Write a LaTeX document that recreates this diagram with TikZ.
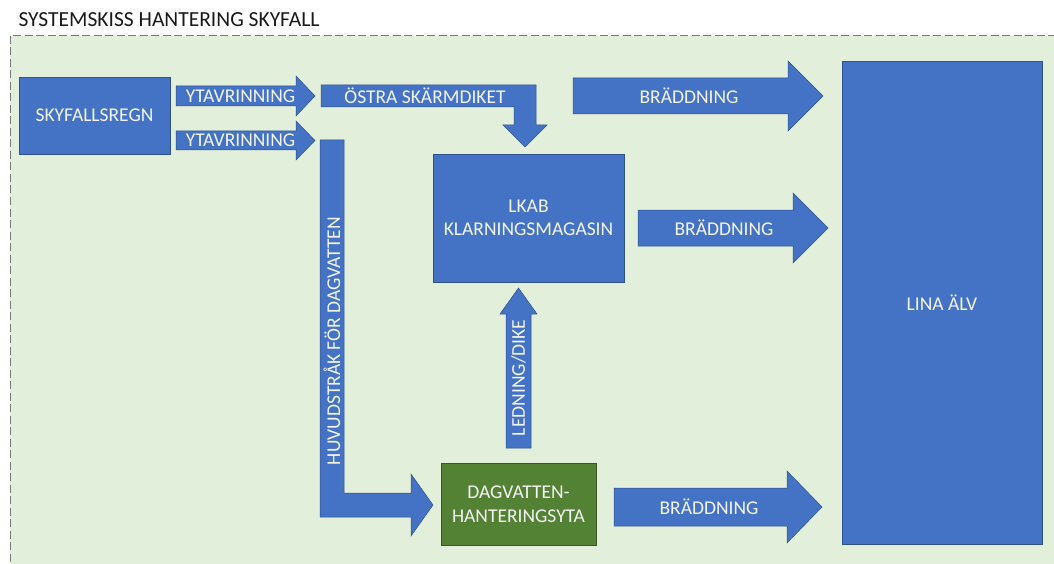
\documentclass[tikz,border=0pt]{standalone}
\usepackage{fontspec}
\setmainfont{Carlito}
\usepackage{tikz}
\usetikzlibrary{calc}

\definecolor{skyblue}{HTML}{4472C4}
\definecolor{skyedge}{HTML}{2F528F}
\definecolor{skygreen}{HTML}{548235}
\definecolor{greenedge}{HTML}{385723}
\definecolor{areabg}{HTML}{E2EFDA}
\definecolor{areaedge}{HTML}{7A7A7A}
\definecolor{labeltext}{HTML}{F4F4F4}

\tikzstyle{every node}=[font=\fontsize{19.5}{23.5}\selectfont, text=labeltext]
\tikzstyle{bluebox}=[draw=skyedge, fill=skyblue, line width=0.6pt, align=center, inner sep=0pt]
\tikzstyle{greenbox}=[draw=greenedge, fill=skygreen, line width=0.6pt, align=center, inner sep=0pt]
\tikzstyle{blockarrow}=[draw=skyedge, fill=skyblue, line width=0.5pt, line join=miter]

\begin{document}
\begin{tikzpicture}[x=1pt, y=-1pt]
                \useasboundingbox (0, 0) rectangle (1054, 564);
                \clip (0, 0) rectangle (1054, 564);

                % area
                \draw [areaedge, fill=areabg, line width=1pt, dash pattern=on 8pt off 3.5pt] (10, 36) rectangle (1070, 580);
                \node [anchor=west, text=black!90, font=\fontsize{21.5}{25}\selectfont] (title) at (15, 20) {SYSTEMSKISS HANTERING SKYFALL};

                % boxes
                \node [bluebox, minimum width=151pt, minimum height=77pt] (regn) at (94.5, 115.5) {SKYFALLSREGN};
                \node [bluebox, minimum width=191pt, minimum height=128pt] (lkab) at (528.5, 218) {LKAB\\KLARNINGSMAGASIN};
                \node [bluebox, minimum width=200pt, minimum height=483pt] (lina) at (942, 302.5) {LINA ÄLV};
                \node [greenbox, minimum width=155pt, minimum height=82pt] (yta) at (518.5, 504) {DAGVATTEN-\\HANTERINGSYTA};

                % block arrows
                \draw [blockarrow] (176, 86) -- (296, 86) -- (296, 76) -- (315, 96) -- (296, 116) -- (296, 106) -- (176, 106) -- cycle;
                \node (yt1) at (240.5, 96) {YTAVRINNING};

                \draw [blockarrow] (176, 131) -- (296, 131) -- (296, 121) -- (315, 140.5) -- (296, 160) -- (296, 150) -- (176, 150) -- cycle;
                \node (yt2) at (240.5, 140.5) {YTAVRINNING};

                \draw [blockarrow] (321, 85) -- (536, 85) -- (536, 125) -- (547, 125) -- (525, 147) -- (503, 125) -- (514, 125) -- (514, 107) -- (321, 107) -- cycle;
                \node (ostra) at (425, 96) {ÖSTRA SKÄRMDIKET};

                \draw [blockarrow] (320, 140) -- (344, 140) -- (344, 493) -- (411, 493) -- (411, 474) -- (433, 505) -- (411, 536) -- (411, 517) -- (320, 517) -- cycle;
                \node [rotate=90] (huvud) at (332, 341) {HUVUDSTRÅK FÖR DAGVATTEN};

                \draw [blockarrow] (506, 448) -- (506, 314) -- (500, 314) -- (518.5, 288) -- (537, 314) -- (531, 314) -- (531, 448) -- cycle;
                \node [rotate=90] (ledning) at (518.5, 378) {LEDNING/DIKE};

                \draw [blockarrow] (573, 78) -- (788, 78) -- (788, 61) -- (823, 96) -- (788, 131) -- (788, 114) -- (573, 114) -- cycle;
                \node (bradd1) at (689, 96) {BRÄDDNING};

                \draw [blockarrow] (638, 210) -- (793, 210) -- (793, 193) -- (828, 228) -- (793, 263) -- (793, 246) -- (638, 246) -- cycle;
                \node (bradd2) at (724, 228) {BRÄDDNING};

                \draw [blockarrow] (614, 488) -- (787, 488) -- (787, 471) -- (822, 507) -- (787, 543) -- (787, 526) -- (614, 526) -- cycle;
                \node (bradd3) at (709, 507) {BRÄDDNING};
            \end{tikzpicture}
\end{document}
